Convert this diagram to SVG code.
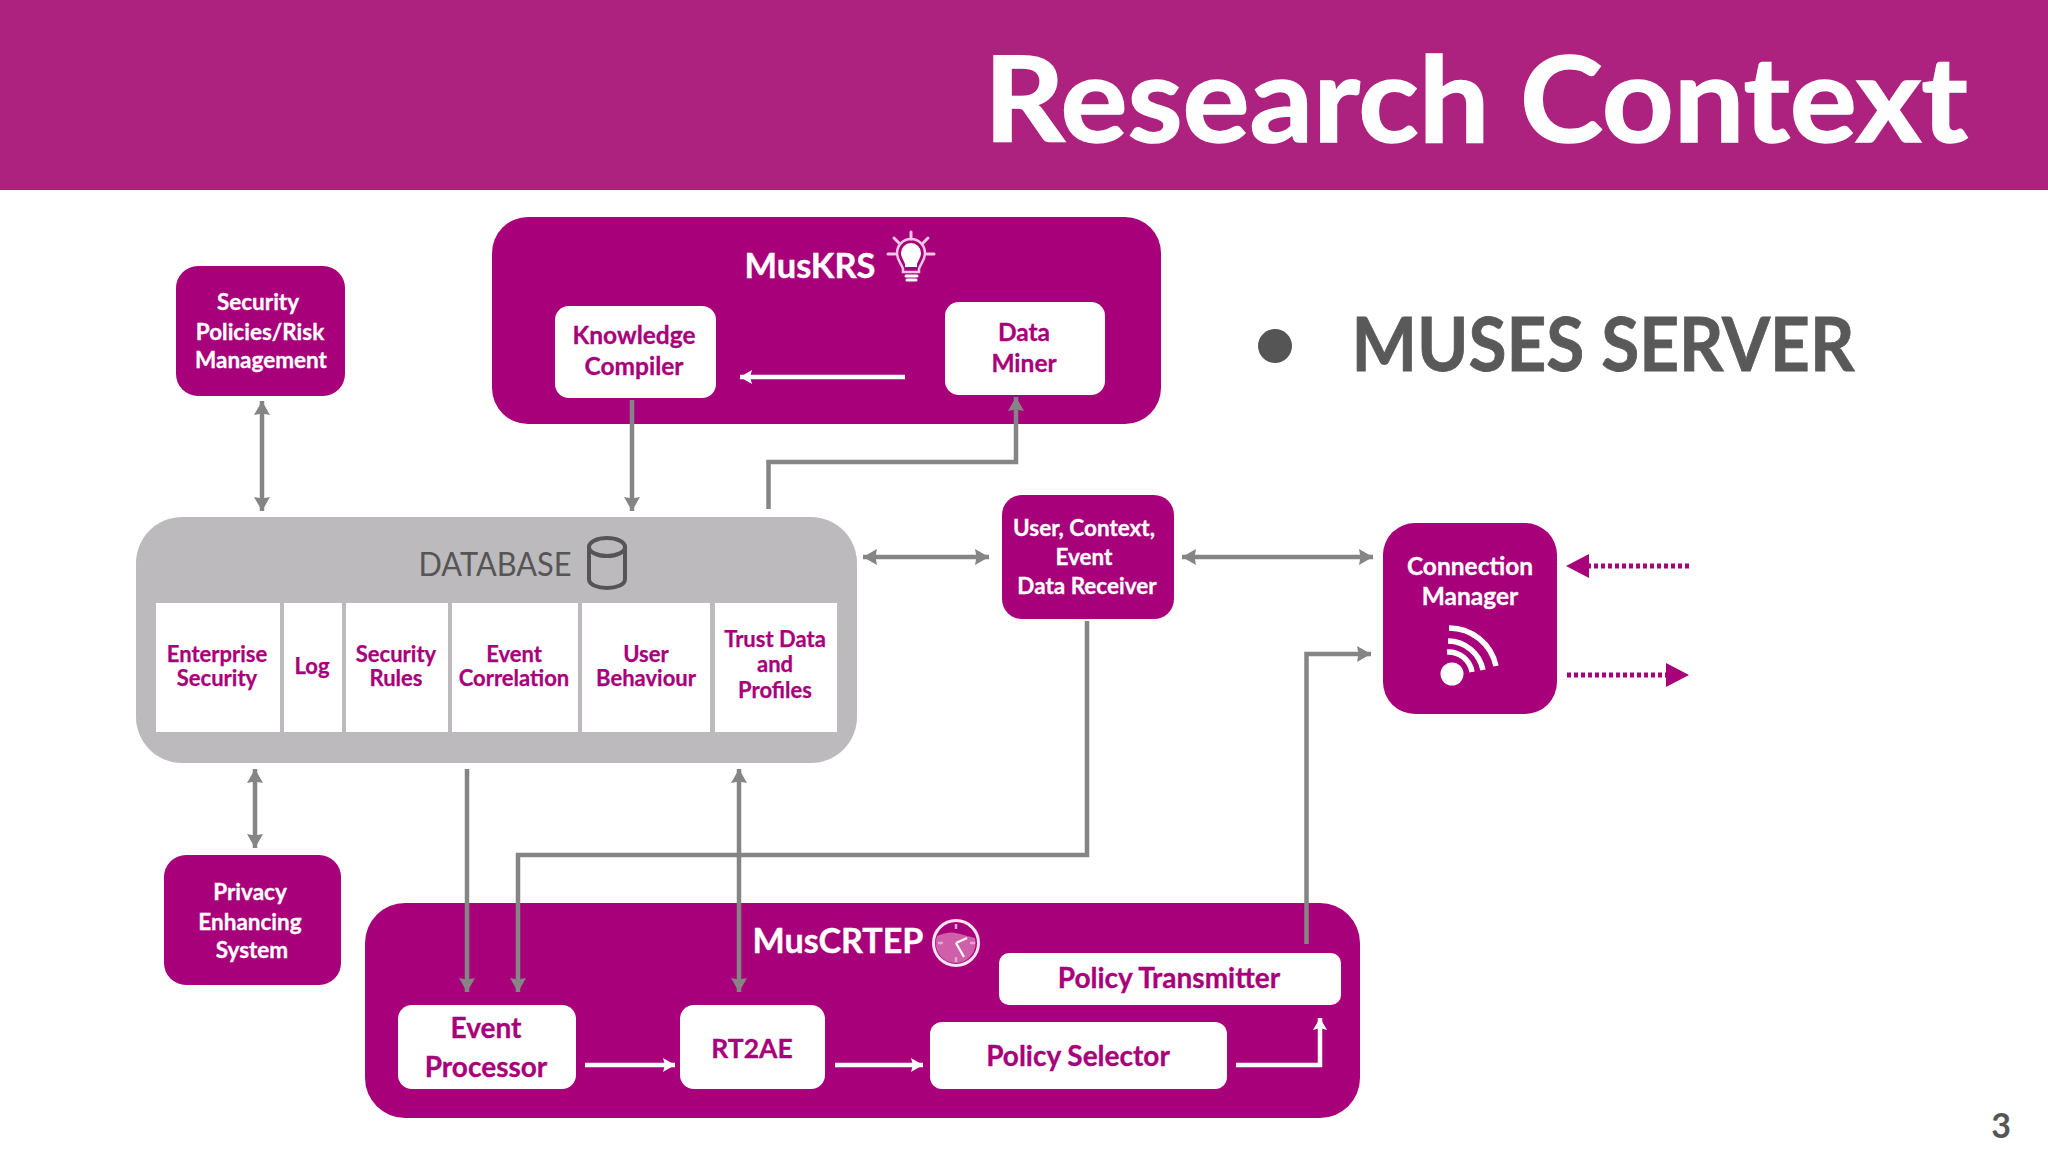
<svg xmlns="http://www.w3.org/2000/svg" width="2048" height="1152" viewBox="0 0 2048 1152">
<style>
text{font-family:"Lato","Liberation Sans",sans-serif;font-weight:700;text-anchor:middle}
.m{fill:#A8007A}.w{fill:#fff}.g{fill:#BCBABD}
.tm{fill:#A8007A;font-size:24.500px;stroke:#A8007A;stroke-width:.3}.tl{fill:#A8007A;font-size:28px;stroke:#A8007A;stroke-width:.3}.tw{fill:#fff;font-size:24.500px;stroke:#fff;stroke-width:.3}.ts{font-size:22px;fill:#A8007A;stroke:#A8007A;stroke-width:.25}.tn{fill:#fff;font-size:22.500px;stroke:#fff;stroke-width:.3}
.c{fill:none;stroke:#858585;stroke-width:4.500}
.cw{fill:none;stroke:#fff;stroke-width:4.500}
.ic{fill:none;stroke:#fff;stroke-linecap:round}
</style>
<defs>
<marker id="ga" markerUnits="userSpaceOnUse" markerWidth="18" markerHeight="18" refX="14" refY="8" orient="auto-start-reverse"><path d="M0 0L14 8L0 16L1.500 8Z" fill="#858585"/></marker>
<marker id="wa" markerUnits="userSpaceOnUse" markerWidth="16" markerHeight="16" refX="12" refY="7" orient="auto-start-reverse"><path d="M0 0L12 7L0 14L2 7Z" fill="#fff"/></marker>
<marker id="ma" markerUnits="userSpaceOnUse" markerWidth="26" markerHeight="26" refX="0" refY="12" orient="auto-start-reverse"><path d="M0 0L23 12L0 24Z" fill="#A8007A"/></marker>
</defs>
<rect width="2048" height="1152" fill="#fff"/>
<rect id="header" width="2048" height="190" fill="#AD217F"/>
<text x="1476" y="142" font-size="118" fill="#fff" stroke="#fff" stroke-width="1.500" textLength="984" lengthAdjust="spacingAndGlyphs">Research Context</text>
<circle cx="1275" cy="346" r="17" fill="#555"/>
<text x="1603" y="371" font-size="74" fill="#595959" stroke="#595959" stroke-width=".8" textLength="503" lengthAdjust="spacingAndGlyphs">MUSES SERVER</text>
<text x="2001" y="1138" font-size="34" fill="#555">3</text>

<g id="muskrs">
<rect class="m" x="492" y="217" width="669" height="207" rx="36"/>
<text x="810" y="278" font-size="35" fill="#fff" stroke="#fff" stroke-width=".4" textLength="131" lengthAdjust="spacingAndGlyphs">MusKRS</text>
<path d="M905 264c-2-5-4-7-4-11a10 10 0 0 1 20 0c0 4-2 6-4 11v3h-12Z" fill="#fff"/>
<g class="ic" stroke-width="3">
<path d="M903 269c-1-5-6-8-6-16a14 14 0 0 1 28 0c0 8-5 11-6 16v3h-16Z" stroke="#F3C6E3" stroke-width="2.500"/>
<path d="M906 276h11M907 280h9"/>
<path d="M911 232v7M894 238l5 5M928 238l-5 5M888 254h7M927 254h7" stroke="#F3C6E3"/>
</g>
</g>
<g id="knowledge-compiler"><rect class="w" x="555" y="306" width="161" height="92" rx="14"/><text class="tm" x="634" y="344">Knowledge</text><text class="tm" x="634" y="375">Compiler</text></g>
<g id="data-miner"><rect class="w" x="945" y="302" width="160" height="93" rx="14"/><text class="tm" x="1024" y="341">Data</text><text class="tm" x="1024" y="372">Miner</text></g>

<g id="security-policies"><rect class="m" x="176" y="266" width="169" height="130" rx="22"/><text class="tn" x="258" y="310">Security</text><text class="tn" x="260" y="340">Policies/Risk</text><text class="tn" x="261" y="368">Management</text></g>
<g id="privacy"><rect class="m" x="164" y="855" width="177" height="130" rx="22"/><text class="tn" x="250" y="900">Privacy</text><text class="tn" x="250" y="930">Enhancing</text><text class="tn" x="252" y="958">System</text></g>

<g id="database">
<rect class="g" x="136" y="517" width="721" height="246" rx="46"/>
<text x="495" y="576" font-size="33" fill="#555" style="font-weight:400" textLength="153" lengthAdjust="spacingAndGlyphs">DATABASE</text>
<g fill="none" stroke="#555" stroke-width="4"><ellipse cx="607" cy="547" rx="18" ry="9"/><path d="M589 547v32c0 12 36 12 36 0v-32"/></g>
<rect class="w" x="156" y="603" width="124" height="129"/><text class="ts" x="217" y="662">Enterprise</text><text class="ts" x="217" y="686">Security</text>
<rect class="w" x="284" y="603" width="58" height="129"/><text class="ts" x="312" y="674">Log</text>
<rect class="w" x="346" y="603" width="102" height="129"/><text class="ts" x="396" y="662">Security</text><text class="ts" x="396" y="686">Rules</text>
<rect class="w" x="452" y="603" width="126" height="129"/><text class="ts" x="514" y="662">Event</text><text class="ts" x="514" y="686">Correlation</text>
<rect class="w" x="582" y="603" width="128" height="129"/><text class="ts" x="646" y="662">User</text><text class="ts" x="646" y="686">Behaviour</text>
<rect class="w" x="715" y="603" width="122" height="129"/><text class="ts" x="775" y="647">Trust Data</text><text class="ts" x="775" y="672">and</text><text class="ts" x="775" y="698">Profiles</text>
</g>

<g id="data-receiver"><rect class="m" x="1002" y="495" width="172" height="124" rx="20"/><text class="tn" x="1084" y="536">User, Context,</text><text class="tn" x="1084" y="565">Event</text><text class="tn" x="1087" y="594">Data Receiver</text></g>

<g id="connection-manager"><rect class="m" x="1383" y="523" width="174" height="191" rx="32"/><text class="tw" x="1470" y="575">Connection</text><text class="tw" x="1470" y="605">Manager</text>
<circle cx="1452" cy="674" r="11.500" fill="#fff"/>
<g fill="none" stroke="#fff" stroke-width="5.500"><path d="M1449 628A48 48 0 0 1 1496 666"/><path d="M1448 641A36 36 0 0 1 1483 670"/><path d="M1447 652A24 24 0 0 1 1472 672"/></g></g>

<g id="muscrtep">
<rect class="m" x="365" y="903" width="995" height="215" rx="40"/>
<text x="838" y="953" font-size="35" fill="#fff" stroke="#fff" stroke-width=".4" textLength="171" lengthAdjust="spacingAndGlyphs">MusCRTEP</text>
<path d="M937 936Q950 930 960 934L975 938A20 20 0 1 1 937 936Z" fill="#CF5FA8"/>
<circle cx="956" cy="943" r="22.500" fill="none" stroke="#FBE3F2" stroke-width="3"/>
<path d="M956 943L967 938M956 943L964 957" stroke="#fff" stroke-width="2.200" fill="none"/>
<path d="M956 924v5M956 957v5M938 943h5M970 943h5" stroke="#E8A5D2" stroke-width="2.500" fill="none"/>
</g>
<g id="event-processor"><rect class="w" x="398" y="1005" width="178" height="84" rx="14"/><text class="tl" x="486" y="1038">Event</text><text class="tl" x="486" y="1077">Processor</text></g>
<g id="rt2ae"><rect class="w" x="680" y="1005" width="145" height="84" rx="14"/><text class="tl" x="752" y="1058" style="font-size:26.500px">RT2AE</text></g>
<g id="policy-selector"><rect class="w" x="930" y="1022" width="297" height="67" rx="12"/><text class="tl" x="1078" y="1066">Policy Selector</text></g>
<g id="policy-transmitter"><rect class="w" x="999" y="953" width="342" height="52" rx="10"/><text class="tl" x="1169" y="988">Policy Transmitter</text></g>

<g id="connectors">
<path class="cw" d="M905 377H740" marker-end="url(#wa)"/>
<path class="c" d="M632 400V511" marker-end="url(#ga)"/>
<path class="c" d="M768.500 509V462H1016V397" marker-end="url(#ga)"/>
<path class="c" d="M262 401V511" marker-start="url(#ga)" marker-end="url(#ga)"/>
<path class="c" d="M255 769V848" marker-start="url(#ga)" marker-end="url(#ga)"/>
<path class="c" d="M863 557H989" marker-start="url(#ga)" marker-end="url(#ga)"/>
<path class="c" d="M1182 557H1373" marker-start="url(#ga)" marker-end="url(#ga)"/>
<path class="c" d="M1306.500 944V654H1371" marker-end="url(#ga)"/>
<path class="c" d="M1087 621V855H518V992" marker-end="url(#ga)"/>
<path class="c" d="M467 769V992" marker-end="url(#ga)"/>
<path class="c" d="M739 769V992" marker-start="url(#ga)" marker-end="url(#ga)"/>
<path class="cw" d="M585 1065H675" marker-end="url(#wa)"/>
<path class="cw" d="M835 1065H923" marker-end="url(#wa)"/>
<path class="cw" d="M1236 1065H1320V1018" marker-end="url(#wa)"/>
<path d="M1689 566H1589" fill="none" stroke="#A8007A" stroke-width="5" stroke-dasharray="4 3" marker-end="url(#ma)"/>
<path d="M1567 675H1666" fill="none" stroke="#A8007A" stroke-width="5" stroke-dasharray="4 3" marker-end="url(#ma)"/>
</g>
</svg>
